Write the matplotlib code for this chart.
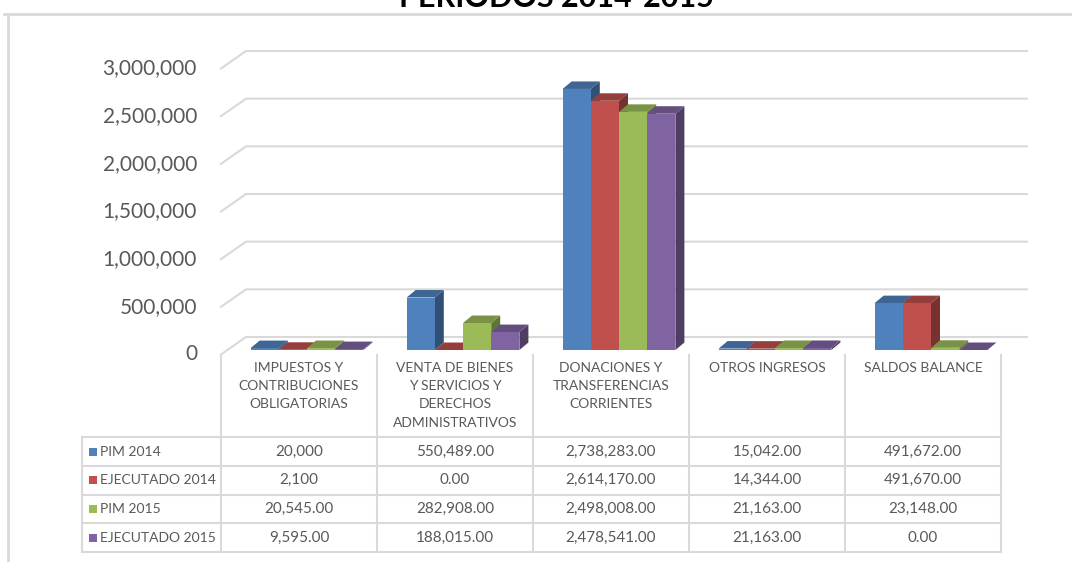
import matplotlib
matplotlib.use("Agg")
import matplotlib.pyplot as plt
from matplotlib.patches import Polygon, Rectangle
from matplotlib.colors import to_rgb

plt.rcParams["font.family"] = ["Lato", "DejaVu Sans"]

# data
categories = ["IMPUESTOS Y\nCONTRIBUCIONES\nOBLIGATORIAS",
              "VENTA DE BIENES\nY SERVICIOS Y\nDERECHOS\nADMINISTRATIVOS",
              "DONACIONES Y\nTRANSFERENCIAS\nCORRIENTES",
              "OTROS INGRESOS",
              "SALDOS BALANCE"]
series_names = ["PIM 2014", "EJECUTADO 2014", "PIM 2015", "EJECUTADO 2015"]
pim_2014 = [20000, 550489, 2738283, 15042, 491672]
ejecutado_2014 = [2100, 0, 2614170, 14344, 491670]
pim_2015 = [20545, 282908, 2498008, 21163, 23148]
ejecutado_2015 = [9595, 188015, 2478541, 21163, 0]
series_values = [pim_2014, ejecutado_2014, pim_2015, ejecutado_2015]
series_colors = ["#4F81BD", "#C0504D", "#9BBB59", "#8064A2"]
yticks = [0, 500000, 1000000, 1500000, 2000000, 2500000, 3000000]
no_decimals = {(0, 0), (1, 0)}  # cells shown without ".00"
title = "PERIODOS 2014-2015"

# layout (pixels)
W, H = 1072, 562
plane_l, plane_r, plane_y0, plane_ytop = 229, 1009, 350, 64
ymax = 3000000
n = len(categories)
XPX = n / (plane_r - plane_l)
YPX = ymax / (plane_y0 - plane_ytop)
grid_c = "#D9D9D9"
txt_c = "#595959"


def shade(c, f):
    r, g, b = to_rgb(c)
    return (r * f, g * f, b * f)


fig = plt.figure(figsize=(W / 100, H / 100), dpi=100)
bg = fig.add_axes([0, 0, 1, 1], zorder=0)
bg.set_xlim(0, W)
bg.set_ylim(H, 0)
bg.axis("off")

ax = fig.add_axes([plane_l / W, (H - plane_y0) / H,
                   (plane_r - plane_l) / W, (plane_y0 - plane_ytop) / H], zorder=1)
ax.set_xlim(0, n)
ax.set_ylim(0, ymax)
ax.axis("off")
ax.patch.set_visible(False)

# walls / gridlines
back_dx, back_dy = 17 * XPX, 13 * YPX
front_dx, front_dy = -8 * XPX, -4.5 * YPX
back_end = n + 18 * XPX
for v in yticks:
    ax.plot([front_dx, back_dx, back_end], [v + front_dy, v + back_dy, v + back_dy],
            color=grid_c, lw=1.5, clip_on=False, zorder=1, solid_joinstyle="miter")
    lab = f"{v:,}"
    ax.text(front_dx - 24 * XPX, v + front_dy, lab, ha="right", va="center",
            fontsize=15, color=txt_c, clip_on=False)

# 3d bars
bar_w = 28.2 * XPX
dxb, dyb = 9 * XPX, 7.5 * YPX
for i in range(n):
    start = i + 0.5 - 2 * bar_w
    for j, vals in enumerate(series_values):
        v = vals[i]
        x = start + j * bar_w
        c = series_colors[j]
        front = Polygon([(x, 0), (x + bar_w, 0), (x + bar_w, v), (x, v)],
                        closed=True, fc=c, ec="none", zorder=3)
        side = Polygon([(x + bar_w, 0), (x + bar_w + dxb, dyb),
                        (x + bar_w + dxb, v + dyb), (x + bar_w, v)],
                       closed=True, fc=shade(c, 0.62), ec="none", zorder=3)
        top = Polygon([(x, v), (x + bar_w, v), (x + bar_w + dxb, v + dyb), (x + dxb, v + dyb)],
                      closed=True, fc=shade(c, 0.78), ec="none", zorder=3)
        for p in (side, top, front):
            p.set_clip_on(False)
            ax.add_patch(p)

# data table
col_w = (plane_r - plane_l) / n
col_edges = [plane_l - 8 + k * col_w for k in range(n + 1)]
head_top = plane_y0 + 4.5
row_edges = [437.3, 466, 494.7, 523.3, 551.7]
tab_l = 82
for xe in col_edges:
    bg.plot([xe, xe], [head_top, row_edges[-1]], color=grid_c, lw=1.5)
bg.plot([tab_l, tab_l], [row_edges[0], row_edges[-1]], color=grid_c, lw=1.5)
for ye in row_edges:
    bg.plot([tab_l, col_edges[-1]], [ye, ye], color=grid_c, lw=1.5)

for i, cat in enumerate(categories):
    cx = (col_edges[i] + col_edges[i + 1]) / 2
    bg.text(cx, 362, cat, ha="center", va="top", fontsize=10, color=txt_c,
            linespacing=1.62)

for j, name in enumerate(series_names):
    cy = (row_edges[j] + row_edges[j + 1]) / 2
    bg.add_patch(Rectangle((89, cy - 4), 8, 8, fc=series_colors[j], ec="none"))
    bg.text(100, cy, name, ha="left", va="center", fontsize=10, color=txt_c)
    for i in range(n):
        v = series_values[j][i]
        s = f"{v:,}" if (j, i) in no_decimals else f"{v:,.2f}"
        cx = (col_edges[i] + col_edges[i + 1]) / 2
        bg.text(cx, cy, s, ha="center", va="center", fontsize=11, color=txt_c)

# chart frame and title (clipped at the top edge, as in the source image)
bg.plot([4, W], [13.5, 13.5], color=grid_c, lw=2)
bg.plot([8, 8], [13.5, H], color=grid_c, lw=2)
bg.text(556, 7, title, ha="center", va="baseline", fontsize=22,
        fontweight="bold", color="black")

fig.savefig("out.png", dpi=100)
